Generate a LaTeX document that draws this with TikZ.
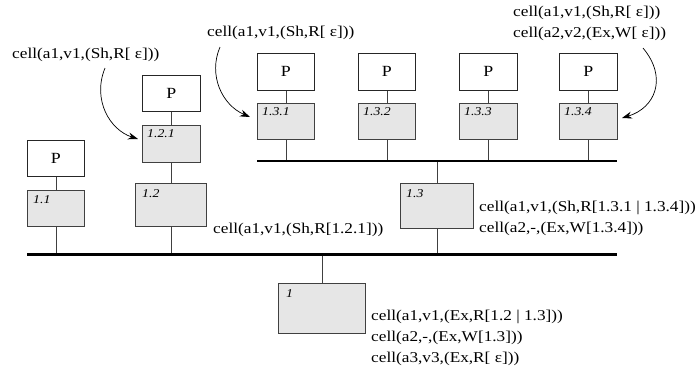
\documentclass[tikz,border=0pt]{standalone}
\usepackage{fontspec}
\setmainfont[FakeStretch=1.15]{Liberation Serif}
\usetikzlibrary{arrows.meta}
\definecolor{cellfill}{HTML}{E6E6E6}
\begin{document}
\begin{tikzpicture}[x=1pt,y=-1pt,
  pbox/.style={draw=black!85, line width=0.8pt, fill=white, inner sep=0pt, anchor=north west, font=\fontsize{15.5}{15.5}\selectfont},
  cbox/.style={draw=black!75, line width=0.8pt, fill=cellfill, inner sep=0pt, anchor=north west},
  idlab/.style={font=\fontsize{12}{12}\selectfont\itshape, inner sep=0pt, anchor=north west},
  txt/.style={font=\fontsize{15}{21}\selectfont, inner sep=0pt, anchor=west, align=left},
  wire/.style={draw=black!75, line width=0.8pt},
  bus/.style={line width=3pt},
  subbus/.style={line width=1.6pt},
  arr/.style={-{Stealth[length=10pt,width=7pt]}, line width=0.7pt}]
\useasboundingbox (0,0) rectangle (696,373);

% buses
\coordinate (mbL) at (27,254);
\coordinate (mbR) at (617,254);
\coordinate (sbL) at (257,161);
\coordinate (sbR) at (617,161);

% P boxes
\node[pbox, minimum width=57pt, minimum height=36pt] (P11)  at (27,140) {P};
\node[pbox, minimum width=58pt, minimum height=36pt] (P121) at (142,75) {P};
\node[pbox, minimum width=57pt, minimum height=37pt] (P131) at (257,53) {P};
\node[pbox, minimum width=57pt, minimum height=37pt] (P132) at (358,53) {P};
\node[pbox, minimum width=58pt, minimum height=37pt] (P133) at (459,53) {P};
\node[pbox, minimum width=58pt, minimum height=37pt] (P134) at (559,53) {P};

% cell boxes
\node[cbox, minimum width=57pt, minimum height=36pt] (c11)  at (27,190) {};
\node[cbox, minimum width=58pt, minimum height=37pt] (c121) at (142,125) {};
\node[cbox, minimum width=71pt, minimum height=43pt] (c12)  at (135,183) {};
\node[cbox, minimum width=57pt, minimum height=36pt] (c131) at (257,103) {};
\node[cbox, minimum width=57pt, minimum height=36pt] (c132) at (358,103) {};
\node[cbox, minimum width=58pt, minimum height=36pt] (c133) at (459,103) {};
\node[cbox, minimum width=58pt, minimum height=36pt] (c134) at (559,103) {};
\node[cbox, minimum width=73pt, minimum height=45pt] (c13)  at (400,183) {};
\node[cbox, minimum width=87pt, minimum height=50pt] (c1)   at (278,283) {};

% id labels
\node[idlab] (l11)  at ([xshift=6pt,yshift=-5pt]c11.north west) {1.1};
\node[idlab] (l121) at ([xshift=5pt,yshift=-4pt]c121.north west) {1.2.1};
\node[idlab] (l12)  at ([xshift=7pt,yshift=-6pt]c12.north west) {1.2};
\node[idlab] (l131) at ([xshift=5pt,yshift=-4pt]c131.north west) {1.3.1};
\node[idlab] (l132) at ([xshift=5pt,yshift=-4pt]c132.north west) {1.3.2};
\node[idlab] (l133) at ([xshift=5pt,yshift=-4pt]c133.north west) {1.3.3};
\node[idlab] (l134) at ([xshift=5pt,yshift=-4pt]c134.north west) {1.3.4};
\node[idlab] (l13)  at ([xshift=6pt,yshift=-6pt]c13.north west) {1.3};
\node[idlab] (l1)   at ([xshift=8pt,yshift=-6pt]c1.north west) {1};

% wires
\draw[wire] (P11) -- (c11);
\draw[wire] (P121) -- (c121);
\draw[wire] (P131) -- (c131);
\draw[wire] (P132) -- (c132);
\draw[wire] (P133) -- (c133);
\draw[wire] (P134) -- (c134);
\draw[wire] (c121.south) -- (c121.south |- c12.north);
\draw[wire] (c11.south) -- (c11.south |- mbL);
\draw[wire] (c121.south |- c12.south) -- (c121.south |- mbL);
\draw[wire] (c131.south) -- (c131.south |- sbL);
\draw[wire] (c132.south) -- (c132.south |- sbL);
\draw[wire] (c133.south) -- (c133.south |- sbL);
\draw[wire] (c134.south) -- (c134.south |- sbL);
\draw[wire] (c13.north) -- (c13.north |- sbL);
\draw[wire] (c13.south) -- (c13.south |- mbL);
\draw[wire] (c1.north) -- (c1.north |- mbL);
\draw[bus] (mbL) -- (mbR);
\draw[subbus] (sbL) -- (sbR);

% texts
\node[txt] (t1)  at (12,55)  {cell(a1,v1,(Sh,R[ ε]))};
\node[txt] (t2)  at (207,33) {cell(a1,v1,(Sh,R[ ε]))};
\node[txt] (t3)  at (513,23) {cell(a1,v1,(Sh,R[ ε]))\\cell(a2,v2,(Ex,W[ ε]))};
\node[txt] (t12) at (213,230) {cell(a1,v1,(Sh,R[1.2.1]))};
\node[txt] (t13) at (479,218) {cell(a1,v1,(Sh,R[1.3.1 | 1.3.4]))\\cell(a2,-,(Ex,W[1.3.4]))};
\node[txt] (t1b) at (371,338) {cell(a1,v1,(Ex,R[1.2 | 1.3]))\\cell(a2,-,(Ex,W[1.3]))\\cell(a3,v3,(Ex,R[ ε]))};

% arrows
\coordinate (aAs) at (105,68);
\coordinate (aAe) at (138,139);
\coordinate (aBs) at (220,47);
\coordinate (aBe) at (250,117);
\coordinate (aCs) at (643,48);
\coordinate (aCe) at (622,118);
\draw[arr] (aAs) .. controls (92,100) and (110,130) .. (aAe);
\draw[arr] (aBs) .. controls (208,75) and (222,105) .. (aBe);
\draw[arr] (aCs) .. controls (668,78) and (655,108) .. (aCe);
\end{tikzpicture}
\end{document}
